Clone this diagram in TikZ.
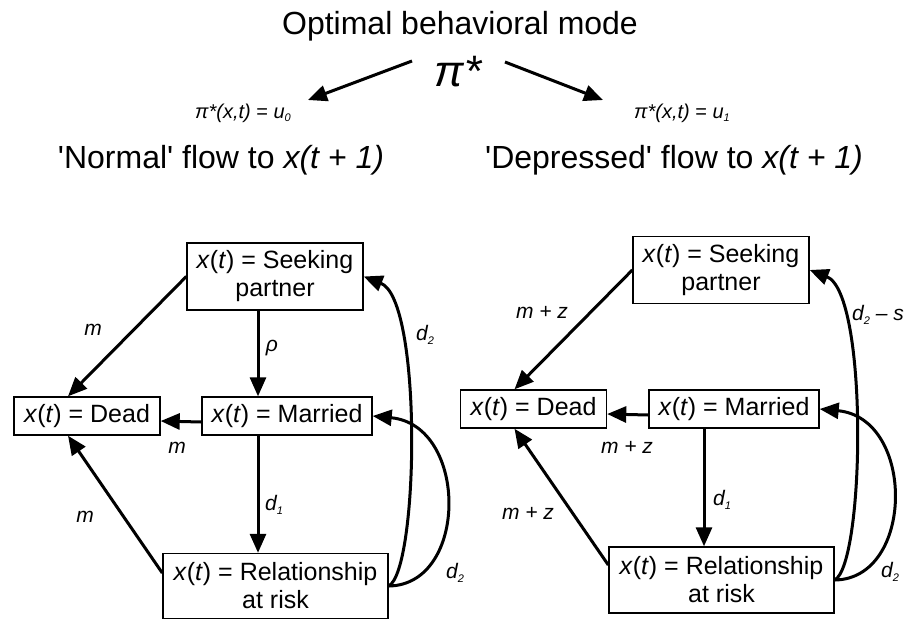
\documentclass[tikz,border=0pt]{standalone}
\usepackage{fontspec}
\setmainfont{Liberation Sans}
\usetikzlibrary{arrows.meta}
\newcommand{\lowidx}[1]{\raisebox{-0.35ex}{\fontsize{11}{11}\selectfont #1}}

\begin{document}
\begin{tikzpicture}[x=1pt, y=-1pt,
    state/.style={draw, line width=1.4pt, align=center, inner sep=0pt,
    font=\fontsize{25}{28}\selectfont},
    flow/.style={line width=3pt, -{Triangle[length=19pt, width=16pt]}},
    rate/.style={font=\itshape\fontsize{21}{24}\selectfont}]

    \useasboundingbox (0,0) rectangle (912,619);

    % Policy
    \node[font=\fontsize{32}{36}\selectfont] (title) at (460, 26) {Optimal behavioral mode};
    \node[font=\itshape\fontsize{44}{48}\selectfont] (pi) at (458, 72) {π*};
    \node[font=\itshape\fontsize{20}{22}\selectfont] (uzero) at (243, 113) {π*(x,t) \upshape=\itshape\ u\lowidx{0}};
    \node[font=\itshape\fontsize{20}{22}\selectfont] (uone) at (682, 113) {π*(x,t) \upshape=\itshape\ u\lowidx{1}};
    \coordinate (piL) at (412, 61);
    \coordinate (piR) at (505, 62);
    \coordinate (tipL) at (308, 100);
    \coordinate (tipR) at (603, 100);
    \draw[flow] (piL) -- (tipL);
    \draw[flow] (piR) -- (tipR);

    % Headers
    \node[font=\fontsize{32}{36}\selectfont] (normal) at (221, 160)
    {\textquotesingle Normal\textquotesingle\ flow to \textit{x(t + 1)}};
    \node[font=\fontsize{32}{36}\selectfont] (depressed) at (674, 160)
    {\textquotesingle Depressed\textquotesingle\ flow to \textit{x(t + 1)}};

    % Normal states
    \node[state, minimum width=176, minimum height=67] (seekN) at (275, 276.5)
    {\textit{x}(\textit{t}) = Seeking\\partner};
    \node[state, minimum width=146, minimum height=38] (deadN) at (87, 416)
    {\textit{x}(\textit{t}) = Dead};
    \node[state, minimum width=170, minimum height=38] (marrN) at (287, 416)
    {\textit{x}(\textit{t}) = Married};
    \node[state, minimum width=225, minimum height=65] (riskN) at (275.5, 586)
    {\textit{x}(\textit{t}) = Relationship\\at risk};

    % Normal flows
    \draw[flow] (seekN.west) -- ([xshift=-19pt]deadN.north);
    \draw[flow] ([xshift=-17pt]seekN.south) -- ([xshift=-17pt]seekN.south |- marrN.north);
    \draw[flow] ([yshift=-6pt]marrN.west) -- ([yshift=-5pt]deadN.east);
    \draw[flow] ([xshift=-29pt]marrN.south) -- ([xshift=-29pt]marrN.south |- riskN.north);
    \draw[flow] ([yshift=13pt]riskN.west) -- ([xshift=-19pt]deadN.south);
    \draw[flow] (riskN.east) .. controls +(30,-16) and +(59,23) .. (seekN.east);
    \draw[flow] (riskN.east) .. controls +(80,-1) and +(96,9) .. (marrN.east);

    % Normal rates
    \node[rate] (rSDN) at (93, 330) {m};
    \node[rate] (rSMN) at (272, 348) {ρ};
    \node[rate] (rRSN) at (425, 335) {d\lowidx{2}};
    \node[rate] (rMDN) at (177, 448) {m};
    \node[rate] (rMRN) at (274, 505) {d\lowidx{1}};
    \node[rate] (rRDN) at (85, 517) {m};
    \node[rate] (rRMN) at (455, 573) {d\lowidx{2}};

    % Depressed states
    \node[state, minimum width=176, minimum height=67] (seekD) at (721, 270)
    {\textit{x}(\textit{t}) = Seeking\\partner};
    \node[state, minimum width=146, minimum height=38] (deadD) at (533.5, 409)
    {\textit{x}(\textit{t}) = Dead};
    \node[state, minimum width=170, minimum height=38] (marrD) at (734, 409)
    {\textit{x}(\textit{t}) = Married};
    \node[state, minimum width=225, minimum height=66] (riskD) at (721.5, 580)
    {\textit{x}(\textit{t}) = Relationship\\at risk};

    % Depressed flows
    \draw[flow] (seekD.west) -- ([xshift=-19pt]deadD.north);
    \draw[flow] ([yshift=-6pt]marrD.west) -- ([yshift=-5pt]deadD.east);
    \draw[flow] ([xshift=-30pt]marrD.south) -- ([xshift=-30pt]marrD.south |- riskD.north);
    \draw[flow] ([yshift=15pt]riskD.west) -- ([xshift=-19pt]deadD.south);
    \draw[flow] (riskD.east) .. controls +(30,-16) and +(59,23) .. (seekD.east);
    \draw[flow] (riskD.east) .. controls +(80,-1) and +(96,9) .. (marrD.east);

    % Depressed rates
    \node[rate] (rSDD) at (542, 312) {m + z};
    \node[rate] (rRSD) at (878, 315) {d\lowidx{2} -- s};
    \node[rate] (rMDD) at (627, 447) {m + z};
    \node[rate] (rMRD) at (722, 500) {d\lowidx{1}};
    \node[rate] (rRDD) at (528, 513) {m + z};
    \node[rate] (rRMD) at (890, 572) {d\lowidx{2}};

\end{tikzpicture}
\end{document}
